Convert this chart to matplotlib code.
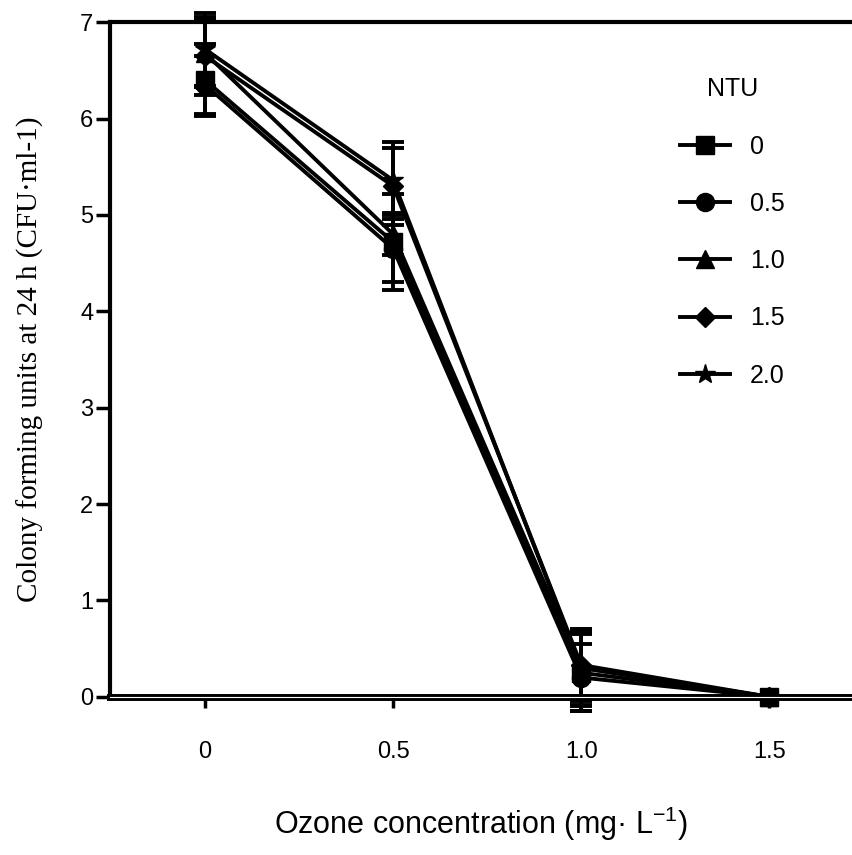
import numpy as np
import matplotlib.pyplot as plt
from matplotlib.lines import Line2D

# ozone concentration (mg/L)
ozone = [0, 0.5, 1.0, 1.5]

# NTU groups, mean and error
ntu_labels = ['0', '0.5', '1.0', '1.5', '2.0']
markers = ['s', 'o', '^', 'D', '*']
msizes = [13, 13, 13, 10, 15]

cfu_0 = [6.40, 4.72, 0.25, 0.0]
cfu_05 = [6.35, 4.65, 0.20, 0.0]
cfu_10 = [6.68, 4.80, 0.30, 0.0]
cfu_15 = [6.65, 5.30, 0.33, 0.0]
cfu_20 = [6.72, 5.36, 0.30, 0.0]

err_0 = [0.37, 0.50, 0.40, 0.0]
err_05 = [0.30, 0.35, 0.35, 0.0]
err_10 = [0.35, 0.22, 0.38, 0.0]
err_15 = [0.40, 0.40, 0.37, 0.0]
err_20 = [0.38, 0.40, 0.40, 0.0]

means = [cfu_0, cfu_05, cfu_10, cfu_15, cfu_20]
errs = [err_0, err_05, err_10, err_15, err_20]

plt.rcParams['font.family'] = ['Liberation Sans', 'DejaVu Sans']
plt.rcParams['mathtext.fontset'] = 'custom'
plt.rcParams['mathtext.rm'] = 'Liberation Sans'

fig = plt.figure(figsize=(8.52, 8.55), dpi=100)
ax = fig.add_axes([0.129, 0.185, 0.871, 0.789])

handles = []
for lab, m, ms, y, e in zip(ntu_labels, markers, msizes, means, errs):
    ax.errorbar(ozone, y, yerr=e, color='black', marker=m, markersize=ms,
                linewidth=2.8, elinewidth=2.8, capsize=8, capthick=2.8,
                clip_on=False, zorder=3)
    handles.append(Line2D([], [], color='black', marker=m, markersize=ms,
                          linewidth=2.8, label=lab))

ax.set_xlim(-0.253, 1.72)
ax.set_ylim(0, 7)
ax.set_yticks(range(0, 8))
ax.set_xticks(ozone)
ax.set_xticklabels(['0', '0.5', '1.0', '1.5'])

ax.spines['right'].set_visible(False)
for s in ['left', 'top', 'bottom']:
    ax.spines[s].set_linewidth(3)
ax.spines['bottom'].set_linewidth(5)
ax.axhline(0, color='white', linewidth=0.8, zorder=4, clip_on=False)

ax.tick_params(axis='y', length=10, width=2.5, labelsize=17, pad=2)
ax.tick_params(axis='x', length=8, width=2.5, labelsize=17, pad=24)

ax.set_ylabel('Colony forming units at 24 h (CFU·ml-1)', family='Liberation Serif',
              fontsize=21, labelpad=26)
ax.set_xlabel('Ozone concentration (mg· L$^{\\mathrm{-1}}$)', fontsize=22, labelpad=30)

leg = ax.legend(handles=handles, title='NTU', loc='upper left',
                bbox_to_anchor=(0.755, 0.933), borderaxespad=0, frameon=False,
                fontsize=18, title_fontsize=18, labelspacing=1.33,
                handlelength=2.0, handletextpad=0.8)

fig.savefig('out.png', dpi=100)
